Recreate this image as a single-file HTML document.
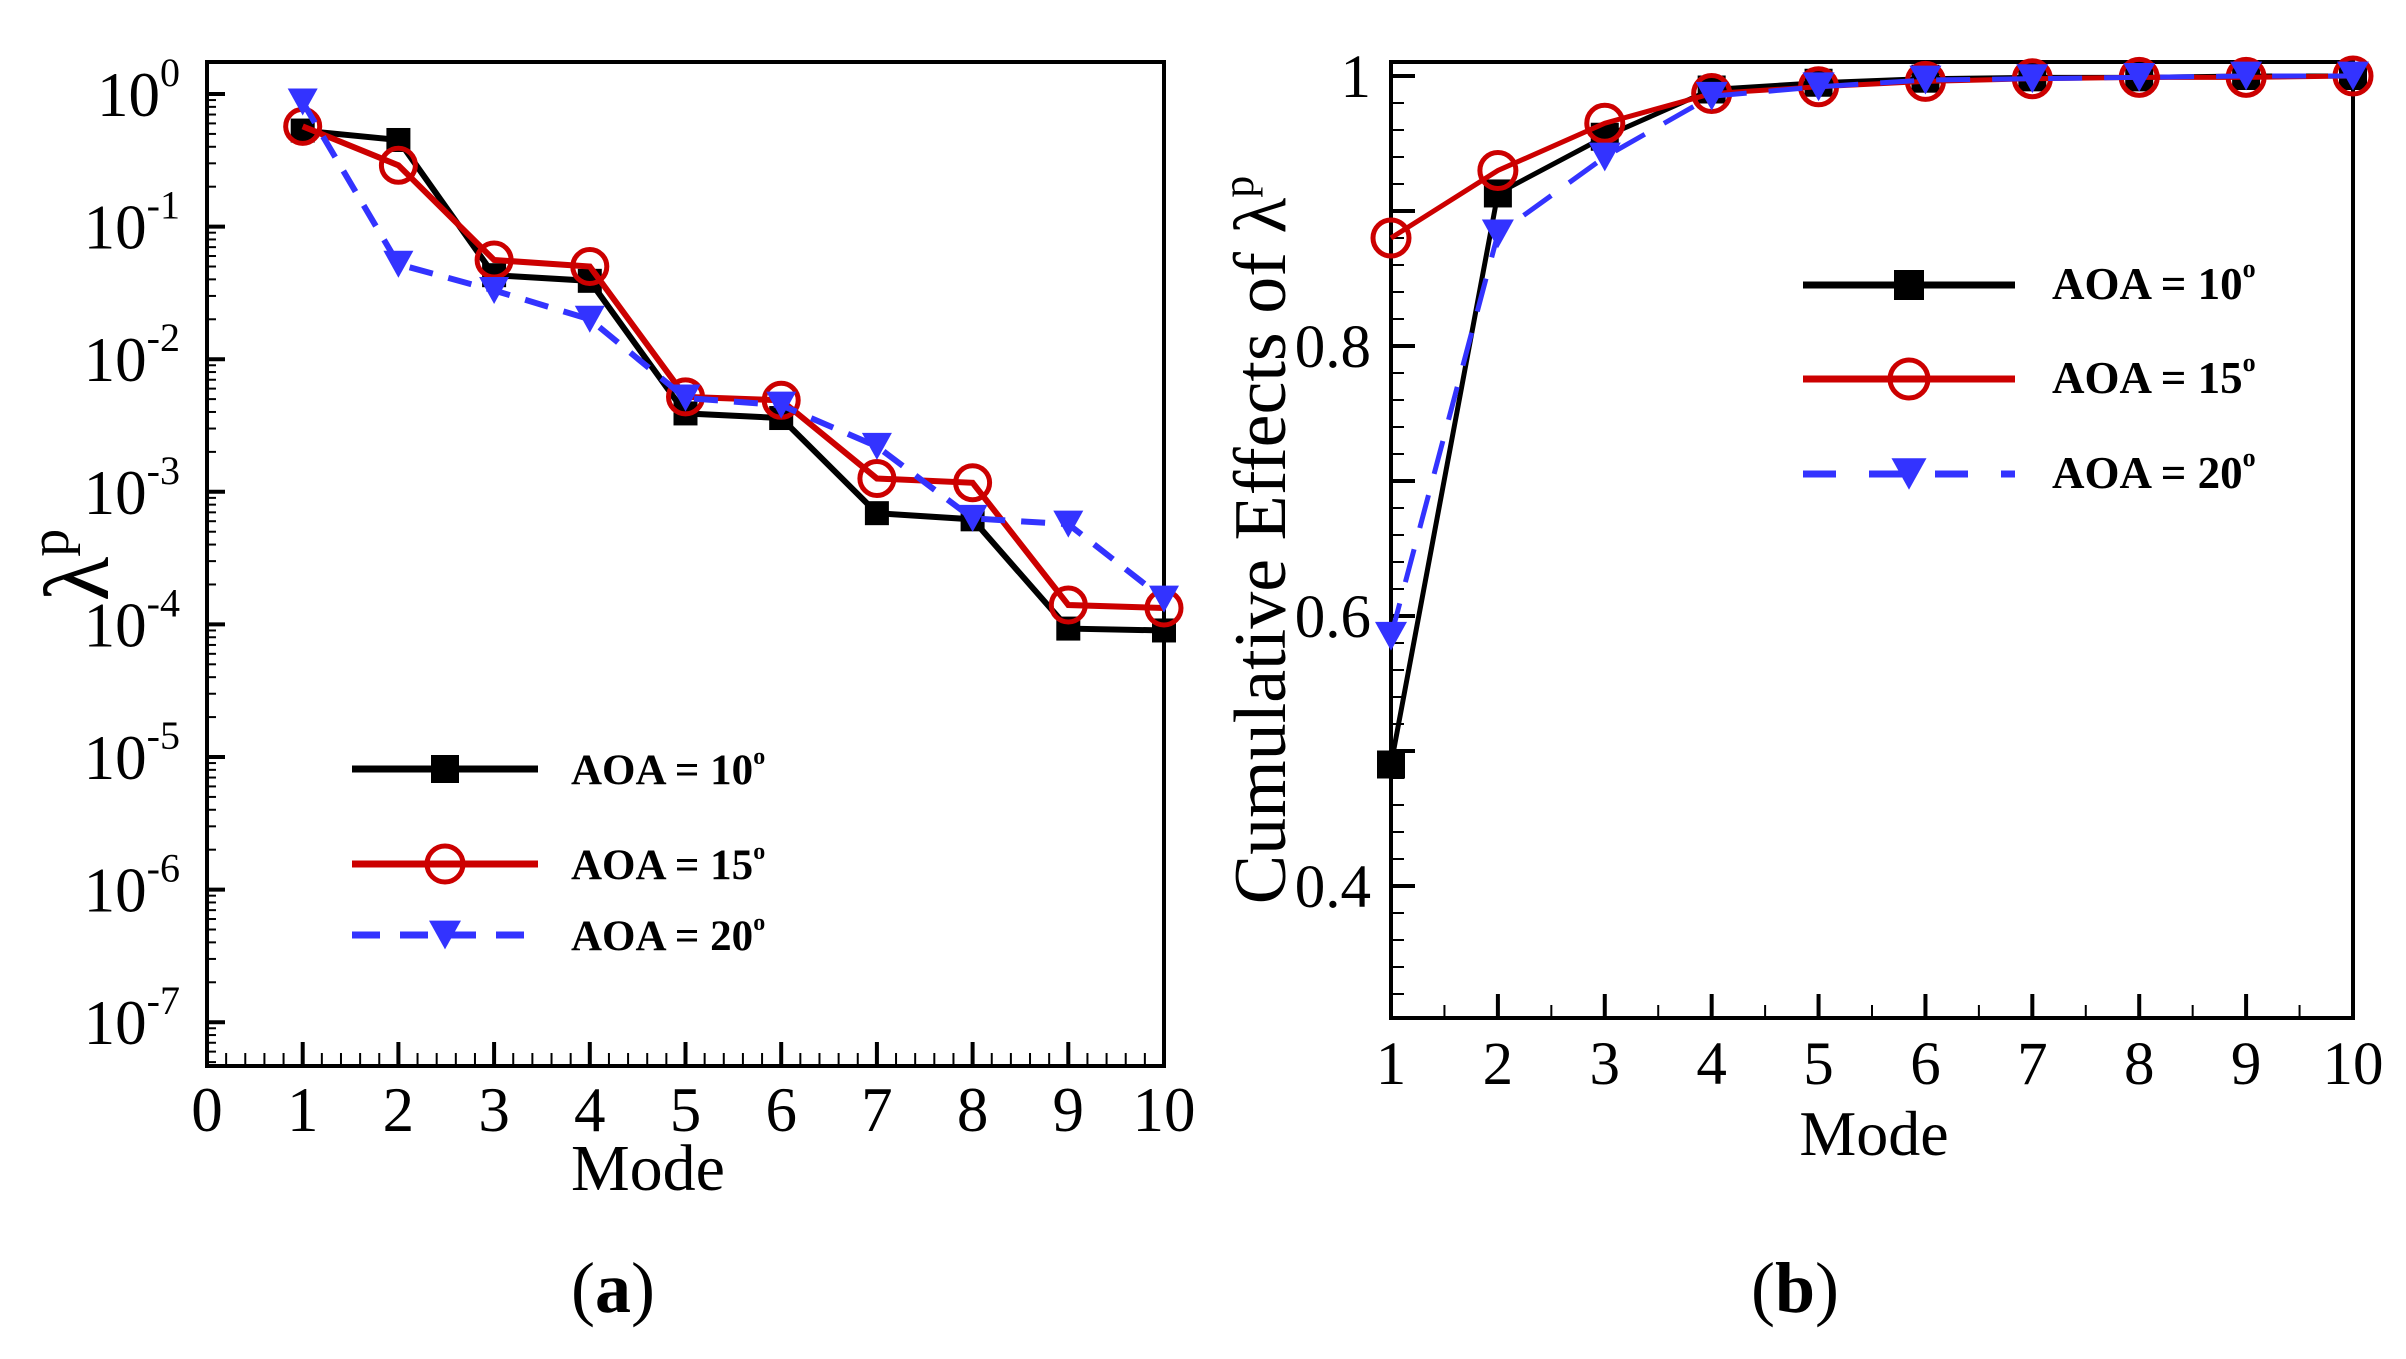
<!DOCTYPE html>
<html><head><meta charset="utf-8"><style>
html,body{margin:0;padding:0;background:#fff;}
svg{display:block;font-family:"Liberation Serif",serif;}
</style></head><body>
<svg id="fig" width="2406" height="1359" viewBox="0 0 2406 1359" xmlns="http://www.w3.org/2000/svg">
<g id="pa"></g>
<g id="pb"></g>
<text x="613" y="1312" font-size="72" text-anchor="middle">(<tspan font-weight="bold">a</tspan>)</text>
<text x="1795" y="1312" font-size="72" text-anchor="middle">(<tspan font-weight="bold">b</tspan>)</text>
</svg>
<script>
const modes=[1,2,3,4,5,6,7,8,9,10];
const aoa10Eig=[0.53,0.45,0.043,0.039,0.0039,0.0036,0.00069,0.00062,0.000093,0.00009];
const aoa15Eig=[0.57,0.29,0.056,0.05,0.0052,0.0049,0.00126,0.00117,0.00014,0.000133];
const aoa20Eig=[0.87,0.052,0.033,0.02,0.0051,0.0045,0.0022,0.00063,0.00057,0.000155];
const aoa10Cum=[0.49,0.913,0.955,0.99,0.995,0.998,0.999,0.999,1.0,1.0];
const aoa15Cum=[0.88,0.93,0.965,0.987,0.992,0.996,0.998,0.999,0.999,1.0];
const aoa20Cum=[0.585,0.883,0.94,0.985,0.992,0.997,0.998,0.999,1.0,1.0];
const xTicksA=[0,1,2,3,4,5,6,7,8,9,10];
const yExpA=[0,-1,-2,-3,-4,-5,-6,-7];
const xTicksB=[1,2,3,4,5,6,7,8,9,10];
const yTicksB=[0.4,0.6,0.8,1];
const yTickLabelsB=["0.4","0.6","0.8","1"];
const legendLabels=["AOA = 10","AOA = 15","AOA = 20"];

const NS="http://www.w3.org/2000/svg";
function mk(parent,tag,attrs){const e=document.createElementNS(NS,tag);for(const k in attrs)e.setAttribute(k,attrs[k]);parent.appendChild(e);return e;}

function marker(g,type,x,y,s,color,sw){
  let e;
  if(type==='sq'){e=mk(g,'rect',{x:x-s/2,y:y-s/2,width:s,height:s,fill:color});}
  else if(type==='ci'){e=mk(g,'circle',{cx:x,cy:y,r:s/2,fill:'none',stroke:color,'stroke-width':sw});}
  else {e=mk(g,'polygon',{points:`${x-s/2},${y-s*0.45} ${x+s/2},${y-s*0.45} ${x},${y+s*0.45}`,fill:color});}
  return e;
}

/* ---------- Panel A ---------- */
const A={x0:207,x1:1164,y0:62,y1:1066};
const axA=v=>A.x0+(v-0)*(A.x1-A.x0)/10;
const ayA=v=>94-Math.log10(v)*132.6;
const ga=document.getElementById('pa');
{
  const frame=mk(ga,'rect',{x:A.x0,y:A.y0,width:A.x1-A.x0,height:A.y1-A.y0,fill:'none',stroke:'#000','stroke-width':4});
  
  
  for(let i=0;i<=50;i++){const v=i/5;const x=axA(v);const major=i%5===0;
    mk(ga,'line',{x1:x,x2:x,y1:A.y1,y2:A.y1-(major?24:13),stroke:'#000','stroke-width':major?4:2});}
  xTicksA.forEach(v=>{const t=mk(ga,'text',{x:axA(v),y:1131,'font-size':63,'text-anchor':'middle'});t.textContent=v;
    
    });
  for(let e=-8;e<=0;e++){for(let m=1;m<=9;m++){const v=m*Math.pow(10,e);const y=ayA(v);if(y<A.y0||y>A.y1)continue;
    mk(ga,'line',{x1:A.x0,x2:A.x0+(m===1?18:9),y1:y,y2:y,stroke:'#000','stroke-width':m===1?4:2});}}
  yExpA.forEach(e=>{const t=mk(ga,'text',{x:180,y:ayA(Math.pow(10,e))+22,'font-size':63,'text-anchor':'end'});
    t.textContent='10';const s=mk(t,'tspan',{dy:-30,'font-size':40});s.textContent=e===0?'0':'-'+(-e);
    
    });
  const xt=mk(ga,'text',{x:648,y:1190,'font-size':66,'text-anchor':'middle'});xt.textContent='Mode';
  
  
  const yt=mk(ga,'text',{x:0,y:0,'font-size':92,'text-anchor':'middle',transform:'translate(108,565) rotate(-90)'});
  yt.textContent='λ';const ys=mk(yt,'tspan',{dy:-40,'font-size':56});ys.textContent='p';
  
  
  const series=[{d:aoa10Eig,c:'#000',m:'sq',dash:null,n:'aoa-10'},{d:aoa15Eig,c:'#cc0000',m:'ci',dash:null,n:'aoa-15'},{d:aoa20Eig,c:'#3333ff',m:'tr',dash:'24,16',n:'aoa-20'}];
  series.forEach(s=>{
    const pts=s.d.map((v,i)=>axA(modes[i])+','+ayA(v)).join(' ');
    const pl=mk(ga,'polyline',{points:pts,fill:'none',stroke:s.c,'stroke-width':6});
    if(s.dash)pl.setAttribute('stroke-dasharray',s.dash);
    
    
    s.d.forEach((v,i)=>{const mm=marker(ga,s.m,axA(modes[i]),ayA(v),s.m==='ci'?34:(s.m==='sq'?24:30),s.c,5);
      
      });
  });
  const rows=[769,864,935];
  series.forEach((s,i)=>{
    const l=mk(ga,'line',{x1:352,x2:538,y1:rows[i],y2:rows[i],stroke:s.c,'stroke-width':7});
    if(s.dash)l.setAttribute('stroke-dasharray','28,20');
    
    
    marker(ga,s.m,445,rows[i],s.m==='ci'?36:(s.m==='sq'?28:32),s.c,5);
    const t=mk(ga,'text',{x:571,y:rows[i]+15,'font-size':43,'font-weight':'bold'});t.textContent=legendLabels[i];
    const sp=mk(t,'tspan',{dy:-20,'font-size':24});sp.textContent='o';
    
    
  });
}

/* ---------- Panel B ---------- */
const B={x0:1391,x1:2353,y0:62,y1:1018};
const axB=v=>B.x0+(v-1)*(B.x1-B.x0)/9;
const ayB=v=>76+(1-v)*1350;
const gb=document.getElementById('pb');
{
  const frame=mk(gb,'rect',{x:B.x0,y:B.y0,width:B.x1-B.x0,height:B.y1-B.y0,fill:'none',stroke:'#000','stroke-width':4});
  
  
  for(let i=0;i<=18;i++){const v=1+i/2;const x=axB(v);const major=i%2===0;
    mk(gb,'line',{x1:x,x2:x,y1:B.y1,y2:B.y1-(major?24:13),stroke:'#000','stroke-width':major?4:2});}
  xTicksB.forEach(v=>{const t=mk(gb,'text',{x:axB(v),y:1084,'font-size':61,'text-anchor':'middle'});t.textContent=v;
    
    });
  for(let i=0;i<=35;i++){const v=0.3+i*0.02;const y=ayB(v);if(y<B.y0||y>B.y1)continue;const major=Math.abs((v*10)-Math.round(v*10))<1e-6;
    mk(gb,'line',{x1:B.x0,x2:B.x0+(major?24:13),y1:y,y2:y,stroke:'#000','stroke-width':major?4:2});}
  yTicksB.forEach((v,i)=>{const t=mk(gb,'text',{x:1371,y:ayB(v)+21,'font-size':61,'text-anchor':'end'});t.textContent=yTickLabelsB[i];
    
    });
  const xt=mk(gb,'text',{x:1874,y:1155,'font-size':64,'text-anchor':'middle'});xt.textContent='Mode';
  
  
  const yt=mk(gb,'text',{x:0,y:0,'font-size':74,'text-anchor':'middle',transform:'translate(1285,540) rotate(-90)'});
  yt.textContent='Cumulative Effects of λ';const ys=mk(yt,'tspan',{dy:-32,'font-size':44});ys.textContent='p';
  
  
  const series=[{d:aoa10Cum,c:'#000',m:'sq',dash:null,n:'aoa-10'},{d:aoa15Cum,c:'#cc0000',m:'ci',dash:null,n:'aoa-15'},{d:aoa20Cum,c:'#3333ff',m:'tr',dash:'34,22',n:'aoa-20'}];
  series.forEach(s=>{
    const pts=s.d.map((v,i)=>axB(modes[i])+','+ayB(v)).join(' ');
    const pl=mk(gb,'polyline',{points:pts,fill:'none',stroke:s.c,'stroke-width':5});
    if(s.dash)pl.setAttribute('stroke-dasharray',s.dash);
    
    
    s.d.forEach((v,i)=>{const mm=marker(gb,s.m,axB(modes[i]),ayB(v),s.m==='ci'?36:(s.m==='sq'?28:32),s.c,5);
      
      });
  });
  const rows=[285,379,474];
  series.forEach((s,i)=>{
    const l=mk(gb,'line',{x1:1803,x2:2015,y1:rows[i],y2:rows[i],stroke:s.c,'stroke-width':7});
    if(s.dash)l.setAttribute('stroke-dasharray','33,33');
    
    
    marker(gb,s.m,1909,rows[i],s.m==='ci'?38:(s.m==='sq'?30:35),s.c,5);
    const t=mk(gb,'text',{x:2052,y:rows[i]+14,'font-size':45,'font-weight':'bold'});t.textContent=legendLabels[i];
    const sp=mk(t,'tspan',{dy:-22,'font-size':26});sp.textContent='o';
    
    
  });
}
</script>
</body></html>
